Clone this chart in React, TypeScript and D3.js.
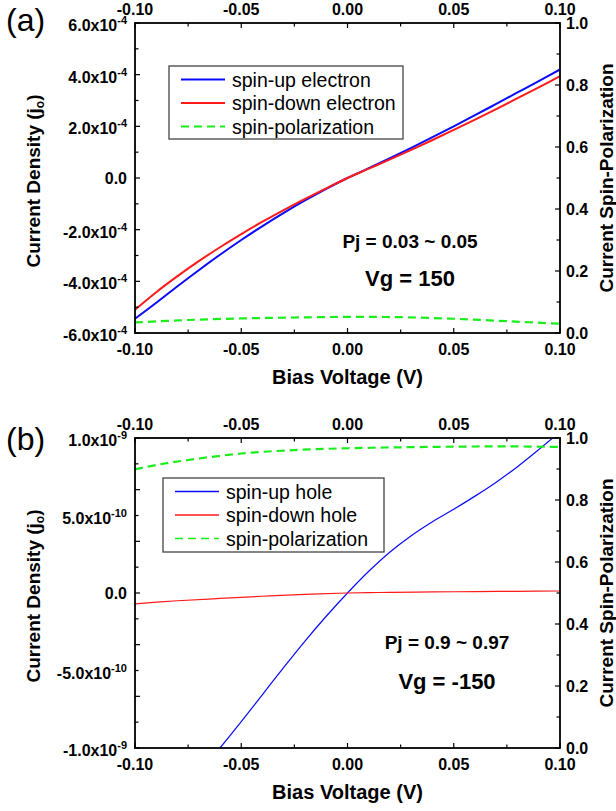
import React from "react";
import * as d3 from "d3";

// ---------- DATA ----------
const biasA = [-0.1, -0.09, -0.08, -0.07, -0.06, -0.05, -0.04, -0.03, -0.02, -0.01, 0, 0.01, 0.02, 0.03, 0.04, 0.05, 0.06, 0.07, 0.08, 0.09, 0.1];
// current density in units of 1e-4
const spinUpElectron = [-5.45, -4.83, -4.19, -3.57, -2.97, -2.4, -1.86, -1.35, -0.87, -0.42, 0, 0.38, 0.77, 1.17, 1.58, 2.0, 2.43, 2.87, 3.31, 3.75, 4.2];
const spinDownElectron = [-5.1, -4.42, -3.8, -3.22, -2.68, -2.17, -1.69, -1.24, -0.81, -0.4, 0, 0.36, 0.72, 1.09, 1.47, 1.86, 2.26, 2.67, 3.09, 3.51, 3.94];
const polBiasA = [-0.1, -0.075, -0.05, -0.025, 0, 0.025, 0.05, 0.075, 0.1];
const spinPolA = [0.034, 0.042, 0.047, 0.05, 0.052, 0.051, 0.046, 0.038, 0.03];

const biasUpHole = [-0.06, -0.05, -0.04, -0.03, -0.02, -0.01, 0, 0.01, 0.02, 0.03, 0.04, 0.05, 0.06, 0.07, 0.08, 0.09, 0.1];
// current density in units of 1e-9
const spinUpHole = [-1.0, -0.83, -0.655, -0.48, -0.31, -0.15, 0, 0.14, 0.265, 0.37, 0.46, 0.54, 0.625, 0.715, 0.815, 0.925, 1.04];
const biasDownHole = [-0.1, -0.08, -0.06, -0.04, -0.02, 0, 0.02, 0.04, 0.06, 0.08, 0.1];
const spinDownHole = [-0.07, -0.05, -0.035, -0.021, -0.009, 0, 0.004, 0.007, 0.009, 0.011, 0.013];
const polBiasB = [-0.1, -0.09, -0.075, -0.05, -0.025, 0, 0.025, 0.05, 0.075, 0.1];
const spinPolB = [0.899, 0.913, 0.929, 0.95, 0.961, 0.967, 0.97, 0.972, 0.973, 0.971];

const xTicks = [-0.1, -0.05, 0, 0.05, 0.1];
const xTickLabels = ["-0.10", "-0.05", "0.00", "0.05", "0.10"];
const yTicksA = [6, 4, 2, 0, -2, -4, -6];
const yTickLabelsA = ["6.0x10^-4", "4.0x10^-4", "2.0x10^-4", "0.0", "-2.0x10^-4", "-4.0x10^-4", "-6.0x10^-4"];
const yTicksB = [1, 0.5, 0, -0.5, -1];
const yTickLabelsB = ["1.0x10^-9", "5.0x10^-10", "0.0", "-5.0x10^-10", "-1.0x10^-9"];
const rightTicks = [0, 0.2, 0.4, 0.6, 0.8, 1.0];
const rightTickLabels = ["0.0", "0.2", "0.4", "0.6", "0.8", "1.0"];
const legendA = ["spin-up electron", "spin-down electron", "spin-polarization"];
const legendB = ["spin-up hole", "spin-down hole", "spin-polarization"];

const FONT = "'Liberation Sans', Arial, sans-serif";
const BLUE = "#0a0aff";
const RED = "#ff1a1a";
const GREEN = "#1aee1a";

type PanelProps = {
  id: string;
  tag: string;
  tagY: number;
  top: number;
  bottom: number;
  yDomain: [number, number];
  yTicks: number[];
  yTickLabels: string[];
  series: { x: number[]; y: number[]; color: string; width: number; axis: "left" | "right"; dash?: string }[];
  legend: string[];
  legendBox: { x: number; y: number; w: number; h: number };
  lineW: number;
  annot: { pj: string; vg: string; cx: number; pjY: number; vgY: number };
};

const L = 135, R = 560;

function TickLabel({ x, y, label, anchor }: { x: number; y: number; label: string; anchor: string }) {
  const parts = label.split("^");
  if (parts.length === 1) {
    return (
      <text x={x} y={y + 5.5} textAnchor={anchor} fontFamily={FONT} fontWeight="bold" fontSize={16}>
        {label}
      </text>
    );
  }
  return (
    <text x={x} y={y + 8} textAnchor={anchor} fontFamily={FONT} fontWeight="bold" fontSize={16}>
      {parts[0]}
      <tspan dy={-7} fontSize={11}>{parts[1]}</tspan>
    </text>
  );
}

function Panel(p: PanelProps) {
  const x = d3.scaleLinear().domain([-0.1, 0.1]).range([L, R]);
  const y = d3.scaleLinear().domain(p.yDomain).range([p.bottom, p.top]);
  const y2 = d3.scaleLinear().domain([0, 1]).range([p.bottom, p.top]);
  const xMinor = d3.range(0, 9).map((i) => -0.1 + i * 0.025);
  const yStep = (p.yDomain[1] - p.yDomain[0]) / 12;
  const yMinor = d3.range(0, 13).map((i) => p.yDomain[0] + i * yStep);
  const rMinor = d3.range(0, 11).map((i) => i / 10);
  const midY = (p.top + p.bottom) / 2;
  const lb = p.legendBox;
  return (
    <g>
      <defs>
        <clipPath id={"clip" + p.id}>
          <rect x={L} y={p.top} width={R - L} height={p.bottom - p.top} />
        </clipPath>
      </defs>
      <g clipPath={`url(#clip${p.id})`}>
        {p.series.map((s, i) => {
          const sy = s.axis === "left" ? y : y2;
          const gen = d3
            .line<number>()
            .x((_, k) => x(s.x[k]))
            .y((v) => sy(v))
            .curve(d3.curveCatmullRom.alpha(0.5));
          return <path key={i} d={gen(s.y) || ""} fill="none" stroke={s.color} strokeWidth={s.width} strokeDasharray={s.dash} />;
        })}
      </g>
      {/* frame */}
      <rect x={L} y={p.top} width={R - L} height={p.bottom - p.top} fill="none" stroke="#000" strokeWidth={1.8} />
      {/* ticks */}
      {xMinor.map((v, i) => {
        const major = i % 2 === 0;
        const len = major ? 5 : 3.5;
        return (
          <g key={"xt" + i}>
            <line x1={x(v)} x2={x(v)} y1={p.bottom} y2={p.bottom - len} stroke="#000" strokeWidth={1.2} />
            <line x1={x(v)} x2={x(v)} y1={p.top} y2={p.top + len} stroke="#000" strokeWidth={1.2} />
          </g>
        );
      })}
      {yMinor.map((v, i) => {
        const major = i % 2 === 0;
        const len = major ? 5 : 3.5;
        return <line key={"yt" + i} x1={L} x2={L + len} y1={y(v)} y2={y(v)} stroke="#000" strokeWidth={1.2} />;
      })}
      {rMinor.map((v, i) => {
        const major = i % 2 === 0;
        const len = major ? 5 : 3.5;
        return <line key={"rt" + i} x1={R} x2={R - len} y1={y2(v)} y2={y2(v)} stroke="#000" strokeWidth={1.2} />;
      })}
      {/* x tick labels */}
      {xTicks.map((v, i) => (
        <g key={"xl" + i}>
          <text x={x(v)} y={p.bottom + 22} textAnchor="middle" fontFamily={FONT} fontWeight="bold" fontSize={16}>
            {xTickLabels[i]}
          </text>
          <text x={x(v)} y={p.top - 8} textAnchor="middle" fontFamily={FONT} fontWeight="bold" fontSize={16}>
            {xTickLabels[i]}
          </text>
        </g>
      ))}
      {p.yTicks.map((v, i) => (
        <TickLabel key={"yl" + i} x={127} y={y(v)} label={p.yTickLabels[i]} anchor="end" />
      ))}
      {rightTicks.map((v, i) => (
        <TickLabel key={"rl" + i} x={566} y={y2(v)} label={rightTickLabels[i]} anchor="start" />
      ))}
      {/* axis titles */}
      <text x={(L + R) / 2} y={p.bottom + 51} textAnchor="middle" fontFamily={FONT} fontWeight="bold" fontSize={20}>
        Bias Voltage (V)
      </text>
      <text transform={`translate(40,${midY + 3}) rotate(-90)`} textAnchor="middle" fontFamily={FONT} fontWeight="bold" fontSize={19}>
        Current Density (j<tspan fontSize={12} dy={4}>o</tspan><tspan dy={-4}>)</tspan>
      </text>
      <text transform={`translate(613,${midY}) rotate(-90)`} textAnchor="middle" fontFamily={FONT} fontWeight="bold" fontSize={19}>
        Current Spin-Polarization
      </text>
      {/* panel tag */}
      <text x={6} y={p.tagY} fontFamily={FONT} fontSize={32}>
        {p.tag}
      </text>
      {/* legend */}
      <rect x={lb.x} y={lb.y} width={lb.w} height={lb.h} fill="#fff" stroke="#444" strokeWidth={1.3} />
      {p.legend.map((t, i) => {
        const s = p.series[i];
        const cy = lb.y + 13.5 + i * 23.5;
        return (
          <g key={"lg" + i}>
            <line x1={lb.x + 12} x2={lb.x + 56} y1={cy} y2={cy} stroke={s.color} strokeWidth={p.lineW} strokeDasharray={s.dash} />
            <text x={lb.x + 63} y={cy + 7} fontFamily={FONT} fontSize={19.5}>
              {t}
            </text>
          </g>
        );
      })}
      {/* annotations */}
      <text x={p.annot.cx} y={p.annot.pjY} textAnchor="middle" fontFamily={FONT} fontWeight="bold" fontSize={19}>
        {p.annot.pj}
      </text>
      <text x={p.annot.cx} y={p.annot.vgY} textAnchor="middle" fontFamily={FONT} fontWeight="bold" fontSize={22}>
        {p.annot.vg}
      </text>
    </g>
  );
}

export default function App() {
  return (
    <svg width={616} height={811} style={{ position: "absolute", left: 0, top: 0, background: "#fff" }}>
      <rect width={616} height={811} fill="#fff" />
      <Panel
        id="a"
        tag="(a)"
        tagY={31}
        top={23}
        bottom={333}
        yDomain={[-6, 6]}
        yTicks={yTicksA}
        yTickLabels={yTickLabelsA}
        lineW={2}
        series={[
          { x: biasA, y: spinUpElectron, color: BLUE, width: 2, axis: "left" },
          { x: biasA, y: spinDownElectron, color: RED, width: 2, axis: "left" },
          { x: polBiasA, y: spinPolA, color: GREEN, width: 2.2, axis: "right", dash: "8,5" },
        ]}
        legend={legendA}
        legendBox={{ x: 169, y: 66, w: 234, h: 73 }}
        annot={{ pj: "Pj = 0.03 ~ 0.05", vg: "Vg = 150", cx: 410, pjY: 248, vgY: 286 }}
      />
      <Panel
        id="b"
        tag="(b)"
        tagY={450}
        top={438}
        bottom={748}
        yDomain={[-1, 1]}
        yTicks={yTicksB}
        yTickLabels={yTickLabelsB}
        lineW={1.3}
        series={[
          { x: biasUpHole, y: spinUpHole, color: BLUE, width: 1.2, axis: "left" },
          { x: biasDownHole, y: spinDownHole, color: RED, width: 1.2, axis: "left" },
          { x: polBiasB, y: spinPolB, color: GREEN, width: 2.2, axis: "right", dash: "8,5" },
        ]}
        legend={legendB}
        legendBox={{ x: 163, y: 478, w: 221, h: 74 }}
        annot={{ pj: "Pj = 0.9 ~ 0.97", vg: "Vg = -150", cx: 447, pjY: 649, vgY: 689 }}
      />
    </svg>
  );
}
